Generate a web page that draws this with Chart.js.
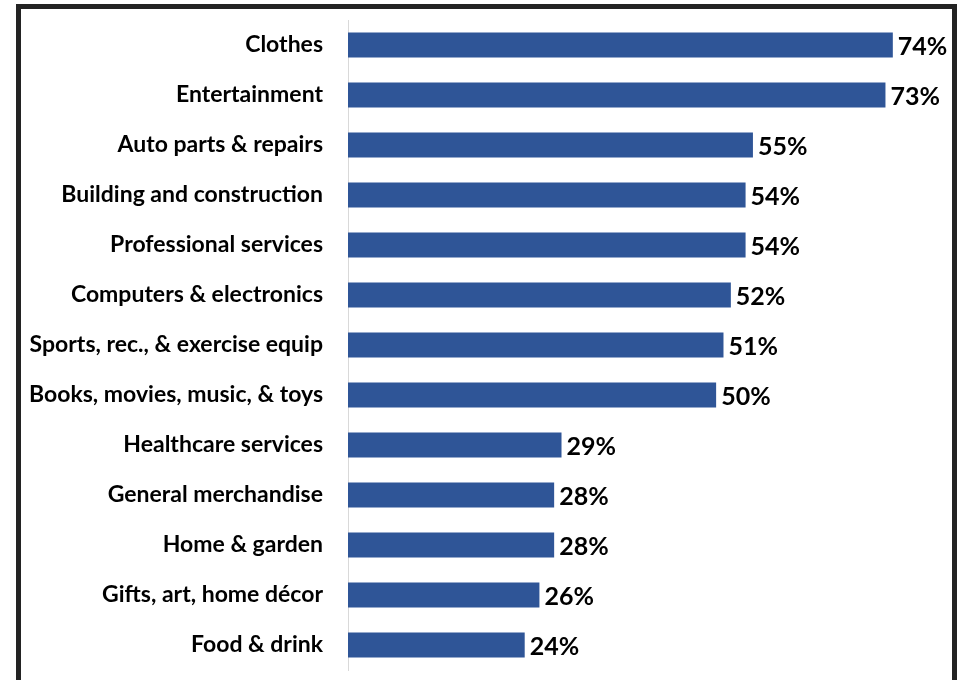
<!DOCTYPE html>
<html>
<head>
<meta charset="utf-8">
<script src="https://cdn.jsdelivr.net/npm/chart.js@4/dist/chart.umd.min.js"></script>
<style>
  html, body { margin: 0; padding: 0; background: #ffffff; }
  #wrap { position: relative; width: 967px; height: 680px; }
</style>
</head>
<body>
<div id="wrap"><canvas id="c" width="967" height="680"></canvas></div>
<script>
// Share of shoppers by category (percent)
const categories = [
  "Clothes",
  "Entertainment",
  "Auto parts & repairs",
  "Building and construction",
  "Professional services",
  "Computers & electronics",
  "Sports, rec., & exercise equip",
  "Books, movies, music, & toys",
  "Healthcare services",
  "General merchandise",
  "Home & garden",
  "Gifts, art, home décor",
  "Food & drink"
];
const shares = [74, 73, 55, 54, 54, 52, 51, 50, 29, 28, 28, 26, 24];

const FONT = "Lato, 'Open Sans', 'DejaVu Sans', sans-serif";

// Dark frame around the figure (open at the bottom edge)
const framePlugin = {
  id: 'frame',
  afterDraw(chart) {
    const ctx = chart.ctx;
    ctx.save();
    ctx.strokeStyle = '#232323';
    ctx.lineWidth = 5;
    ctx.beginPath();
    ctx.moveTo(18.5, 690);
    ctx.lineTo(18.5, 6.5);
    ctx.lineTo(954.5, 6.5);
    ctx.lineTo(954.5, 690);
    ctx.stroke();
    ctx.restore();
  }
};

// Percentage labels at the end of each bar
const valueLabels = {
  id: 'valueLabels',
  afterDatasetsDraw(chart) {
    const ctx = chart.ctx;
    const meta = chart.getDatasetMeta(0);
    const data = chart.data.datasets[0].data;
    ctx.save();
    ctx.font = "bold 25px " + FONT;
    ctx.fillStyle = '#000000';
    ctx.textAlign = 'left';
    ctx.textBaseline = 'middle';
    meta.data.forEach((bar, i) => {
      ctx.fillText(data[i] + '%', bar.x + 5, bar.y + 2);
    });
    ctx.restore();
  }
};

new Chart(document.getElementById('c'), {
  type: 'bar',
  data: {
    labels: categories,
    datasets: [{
      data: shares,
      backgroundColor: '#2F5597',
      borderWidth: 0,
      categoryPercentage: 1.0,
      barPercentage: 0.5
    }]
  },
  options: {
    indexAxis: 'y',
    responsive: false,
    animation: false,
    layout: { padding: { left: 0, right: 30, top: 20, bottom: 10 } },
    plugins: {
      legend: { display: false },
      tooltip: { enabled: false }
    },
    scales: {
      x: {
        display: false,
        min: 0,
        max: 80
      },
      y: {
        afterFit(scale) {
          scale.width = 348;
          scale.paddingTop = 0;
          scale.paddingBottom = 0;
        },
        grid: { display: false, drawTicks: false },
        border: { display: true, color: '#d9d9d9', width: 1 },
        ticks: {
          color: '#000000',
          padding: 25,
          font: { family: FONT, size: 23, weight: 'bold' }
        }
      }
    }
  },
  plugins: [valueLabels, framePlugin]
});
</script>
</body>
</html>
